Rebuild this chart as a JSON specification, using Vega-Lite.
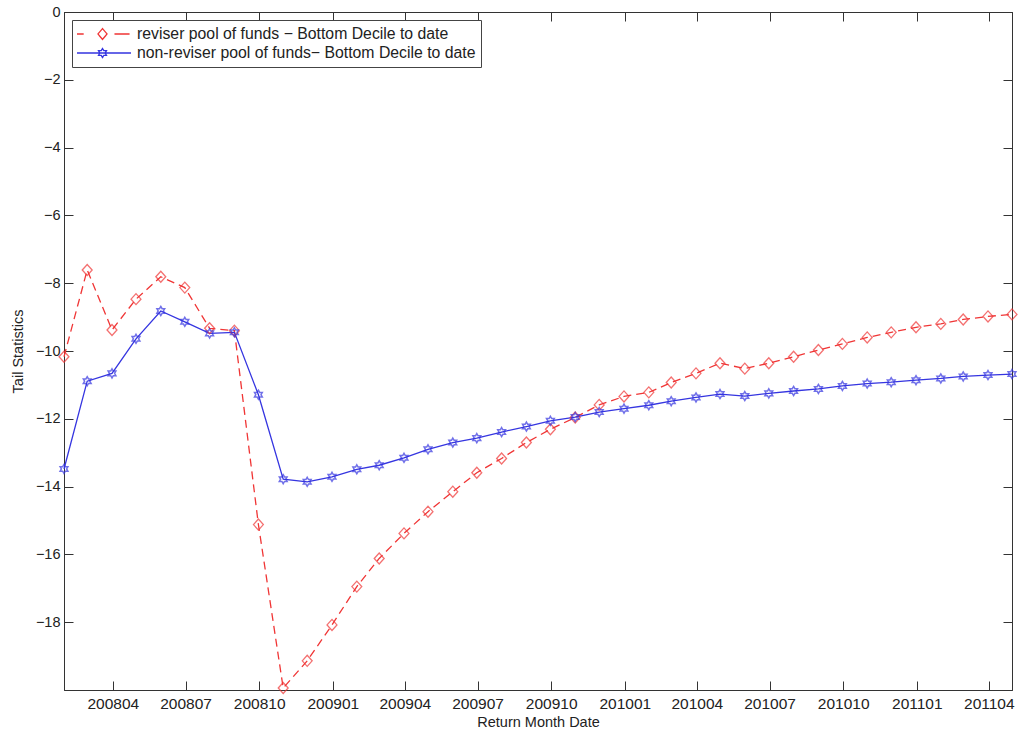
{
  "$schema": "https://vega.github.io/schema/vega-lite/v6.json",
  "width": 948,
  "height": 678,
  "autosize": "none",
  "padding": {"left": 64, "top": 12, "right": 9, "bottom": 46},
  "background": "white",
  "config": {
    "view": {"stroke": "#333", "strokeWidth": 1},
    "font": "Liberation Sans"
  },
  "data": {
    "values": [
      {"month": "2008-01-31", "reviser": -10.17, "nonreviser": -13.48},
      {"month": "2008-02-29", "reviser": -7.61, "nonreviser": -10.89},
      {"month": "2008-03-31", "reviser": -9.38, "nonreviser": -10.66},
      {"month": "2008-04-30", "reviser": -8.47, "nonreviser": -9.64},
      {"month": "2008-05-31", "reviser": -7.81, "nonreviser": -8.82},
      {"month": "2008-06-30", "reviser": -8.13, "nonreviser": -9.14},
      {"month": "2008-07-31", "reviser": -9.33, "nonreviser": -9.48},
      {"month": "2008-08-31", "reviser": -9.40, "nonreviser": -9.45},
      {"month": "2008-09-30", "reviser": -15.12, "nonreviser": -11.29},
      {"month": "2008-10-31", "reviser": -19.94, "nonreviser": -13.78},
      {"month": "2008-11-30", "reviser": -19.14, "nonreviser": -13.86},
      {"month": "2008-12-31", "reviser": -18.08, "nonreviser": -13.71},
      {"month": "2009-01-31", "reviser": -16.95, "nonreviser": -13.49},
      {"month": "2009-02-28", "reviser": -16.12, "nonreviser": -13.37},
      {"month": "2009-03-31", "reviser": -15.38, "nonreviser": -13.15},
      {"month": "2009-04-30", "reviser": -14.74, "nonreviser": -12.90},
      {"month": "2009-05-31", "reviser": -14.15, "nonreviser": -12.70},
      {"month": "2009-06-30", "reviser": -13.59, "nonreviser": -12.57},
      {"month": "2009-07-31", "reviser": -13.17, "nonreviser": -12.39},
      {"month": "2009-08-31", "reviser": -12.70, "nonreviser": -12.23},
      {"month": "2009-09-30", "reviser": -12.31, "nonreviser": -12.06},
      {"month": "2009-10-31", "reviser": -11.96, "nonreviser": -11.95},
      {"month": "2009-11-30", "reviser": -11.59, "nonreviser": -11.80},
      {"month": "2009-12-31", "reviser": -11.34, "nonreviser": -11.70},
      {"month": "2010-01-31", "reviser": -11.22, "nonreviser": -11.60},
      {"month": "2010-02-28", "reviser": -10.93, "nonreviser": -11.48},
      {"month": "2010-03-31", "reviser": -10.66, "nonreviser": -11.37},
      {"month": "2010-04-30", "reviser": -10.36, "nonreviser": -11.27},
      {"month": "2010-05-31", "reviser": -10.52, "nonreviser": -11.33},
      {"month": "2010-06-30", "reviser": -10.36, "nonreviser": -11.25},
      {"month": "2010-07-31", "reviser": -10.17, "nonreviser": -11.18},
      {"month": "2010-08-31", "reviser": -9.97, "nonreviser": -11.12},
      {"month": "2010-09-30", "reviser": -9.79, "nonreviser": -11.03},
      {"month": "2010-10-31", "reviser": -9.60, "nonreviser": -10.96},
      {"month": "2010-11-30", "reviser": -9.45, "nonreviser": -10.92},
      {"month": "2010-12-31", "reviser": -9.30, "nonreviser": -10.86},
      {"month": "2011-01-31", "reviser": -9.20, "nonreviser": -10.81},
      {"month": "2011-02-28", "reviser": -9.07, "nonreviser": -10.75},
      {"month": "2011-03-31", "reviser": -8.98, "nonreviser": -10.71},
      {"month": "2011-04-30", "reviser": -8.92, "nonreviser": -10.68}
    ]
  },
  "transform": [
    {"fold": ["reviser", "nonreviser"], "as": ["series", "value"]}
  ],
  "resolve": {"axis": {"x": "independent", "y": "independent"}},
  "layer": [
    {
      "transform": [{"filter": "datum.series == 'reviser'"}],
      "mark": {"type": "line", "strokeWidth": 1.3, "strokeDash": [8, 5]},
      "encoding": {
        "x": {
          "field": "month", "type": "temporal",
          "scale": {"type": "utc", "nice": false,
            "domain": [{"year": 2008, "month": 1, "date": 31, "utc": true}, {"year": 2011, "month": 4, "date": 30, "utc": true}]},
          "axis": {
            "orient": "bottom",
            "values": [
              {"year": 2008, "month": 4, "date": 1, "utc": true},
              {"year": 2008, "month": 7, "date": 1, "utc": true},
              {"year": 2008, "month": 10, "date": 1, "utc": true},
              {"year": 2009, "month": 1, "date": 1, "utc": true},
              {"year": 2009, "month": 4, "date": 1, "utc": true},
              {"year": 2009, "month": 7, "date": 1, "utc": true},
              {"year": 2009, "month": 10, "date": 1, "utc": true},
              {"year": 2010, "month": 1, "date": 1, "utc": true},
              {"year": 2010, "month": 4, "date": 1, "utc": true},
              {"year": 2010, "month": 7, "date": 1, "utc": true},
              {"year": 2010, "month": 10, "date": 1, "utc": true},
              {"year": 2011, "month": 1, "date": 1, "utc": true},
              {"year": 2011, "month": 4, "date": 1, "utc": true}
            ],
            "labelExpr": "utcFormat(datum.value, '%Y%m')",
            "grid": false,
            "tickSize": -9, "tickColor": "#333", "domainColor": "#333",
            "labelFont": "Liberation Sans", "labelFontSize": 15.5, "labelColor": "#222",
            "labelPadding": 15, "labelFlush": false, "labelOverlap": false,
            "title": "Return Month Date", "titleFont": "Liberation Sans", "titleFontSize": 14.5,
            "titleFontWeight": "normal", "titleColor": "#222", "titlePadding": 4
          }
        },
        "y": {
          "field": "value", "type": "quantitative",
          "scale": {"domain": [-20, 0], "nice": false, "zero": false},
          "axis": {
            "orient": "left",
            "values": [-18, -16, -14, -12, -10, -8, -6, -4, -2, 0],
            "grid": false,
            "tickSize": -9, "tickColor": "#333", "domainColor": "#333",
            "labelFont": "Liberation Sans", "labelFontSize": 14.5, "labelColor": "#222",
            "labelPadding": 13, "labelFlush": false, "labelOverlap": false,
            "title": "Tail Statistics", "titleFont": "Liberation Sans", "titleFontSize": 14.5,
            "titleFontWeight": "normal", "titleColor": "#222", "titlePadding": 10
          }
        },
        "color": {
          "field": "series", "type": "nominal",
          "scale": {"domain": ["reviser", "nonreviser"], "range": ["#f03535", "#3535e0"]},
          "legend": {
            "orient": "none", "legendX": 8, "legendY": 8,
            "title": null,
            "fillColor": "white", "strokeColor": "#444", "padding": 5,
            "symbolSize": 3249, "symbolStrokeWidth": 1.3, "symbolOffset": -4,
            "clipHeight": 18,
            "labelFont": "Liberation Sans", "labelFontSize": 15.8, "labelColor": "#222",
            "labelOffset": 5, "labelLimit": 500, "rowPadding": 1,
            "labelExpr": "datum.value == 'reviser' ? 'reviser pool of funds − Bottom Decile to date' : 'non-reviser pool of funds− Bottom Decile to date'",
            "encode": {
              "symbols": {
                "update": {
                  "shape": {"signal": "datum.value == 'reviser' ? 'M-1,0H-0.66M0,-0.19L0.16,0L0,0.19L-0.16,0ZM0.42,0H0.95' : 'M-1,0H1M0,-0.16L0.046,-0.08L0.139,-0.08L0.092,0L0.139,0.08L0.046,0.08L0,0.16L-0.046,0.08L-0.139,0.08L-0.092,0L-0.139,-0.08L-0.046,-0.08Z'"},
                  "size": {"value": 3249},
                  "strokeDash": {"value": [1, 0]},
                  "fill": {"value": "transparent"},
                  "strokeWidth": {"value": 1.3}
                }
              }
            }
          }
        }
      }
    },
    {
      "transform": [{"filter": "datum.series == 'nonreviser'"}],
      "mark": {"type": "line", "strokeWidth": 1.3},
      "encoding": {
        "x": {"field": "month", "type": "temporal", "axis": null},
        "y": {"field": "value", "type": "quantitative", "axis": null},
        "color": {"field": "series", "type": "nominal"}
      }
    },
    {
      "transform": [{"filter": "datum.series == 'reviser'"}],
      "mark": {"type": "point", "filled": false, "strokeWidth": 1.3, "size": 121, "shape": "M-0.9,0L0,-1L0.9,0L0,1Z"},
      "encoding": {
        "x": {"field": "month", "type": "temporal", "axis": null},
        "y": {"field": "value", "type": "quantitative", "axis": null},
        "color": {"field": "series", "type": "nominal"}
      }
    },
    {
      "transform": [{"filter": "datum.series == 'nonreviser'"}],
      "mark": {"type": "point", "filled": false, "strokeWidth": 1.5, "size": 121, "shape": "M0,-0.82L0.236,-0.41L0.708,-0.41L0.472,0L0.708,0.41L0.236,0.41L0,0.82L-0.236,0.41L-0.708,0.41L-0.472,0L-0.708,-0.41L-0.236,-0.41Z"},
      "encoding": {
        "x": {"field": "month", "type": "temporal", "axis": null},
        "y": {"field": "value", "type": "quantitative", "axis": null},
        "color": {"field": "series", "type": "nominal"}
      }
    },
    {
      "mark": {"type": "point", "opacity": 0},
      "encoding": {
        "x": {
          "field": "month", "type": "temporal",
          "axis": {
            "orient": "top", "labels": false, "title": null, "grid": false,
            "values": [
              {"year": 2008, "month": 4, "date": 1, "utc": true},
              {"year": 2008, "month": 7, "date": 1, "utc": true},
              {"year": 2008, "month": 10, "date": 1, "utc": true},
              {"year": 2009, "month": 1, "date": 1, "utc": true},
              {"year": 2009, "month": 4, "date": 1, "utc": true},
              {"year": 2009, "month": 7, "date": 1, "utc": true},
              {"year": 2009, "month": 10, "date": 1, "utc": true},
              {"year": 2010, "month": 1, "date": 1, "utc": true},
              {"year": 2010, "month": 4, "date": 1, "utc": true},
              {"year": 2010, "month": 7, "date": 1, "utc": true},
              {"year": 2010, "month": 10, "date": 1, "utc": true},
              {"year": 2011, "month": 1, "date": 1, "utc": true},
              {"year": 2011, "month": 4, "date": 1, "utc": true}
            ],
            "tickSize": -9, "tickColor": "#333", "domainColor": "#333"
          }
        },
        "y": {
          "field": "value", "type": "quantitative",
          "axis": {
            "orient": "right", "labels": false, "title": null, "grid": false,
            "values": [-18, -16, -14, -12, -10, -8, -6, -4, -2, 0],
            "tickSize": -9, "tickColor": "#333", "domainColor": "#333"
          }
        }
      }
    }
  ]
}
